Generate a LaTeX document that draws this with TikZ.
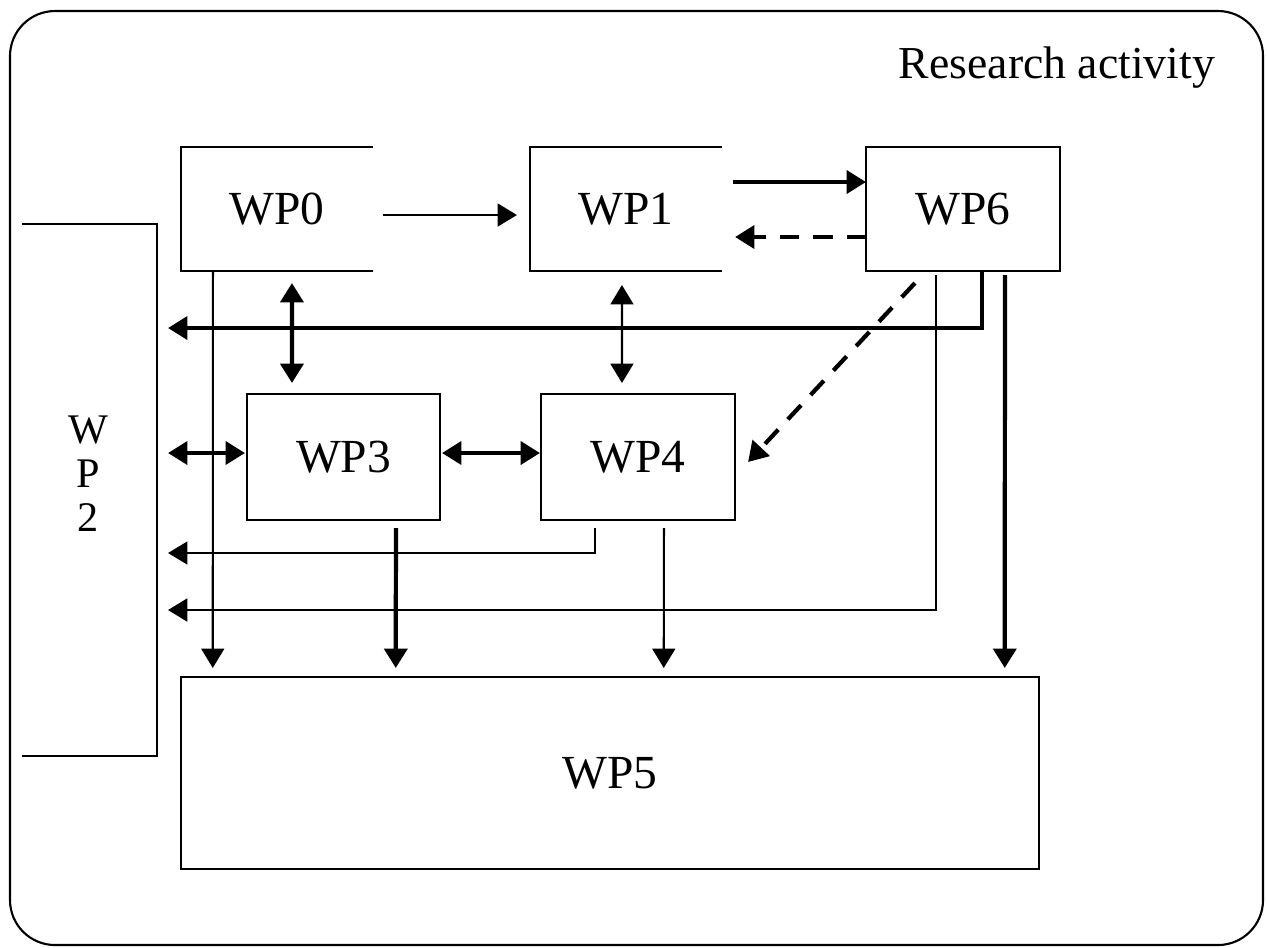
\documentclass[tikz,border=0pt]{standalone}
\usepackage{fontspec}
\setmainfont{Liberation Serif}
\usepackage{tikz}
\usetikzlibrary{arrows.meta,calc,positioning}

\begin{document}
\begin{tikzpicture}[x=0.01cm, y=-0.01cm,
    wp/.style={inner sep=0pt, outer sep=0pt, font=\fontsize{13.5}{16}\selectfont},
    box/.style={wp, draw, line width=0.6pt},
    thinarr/.style={line width=0.6pt, -{Triangle[length=5.5pt,width=6.5pt]}},
    midarr/.style={line width=0.8pt, -{Triangle[length=5.5pt,width=6.5pt]}},
    thickarr/.style={line width=1.2pt, -{Triangle[length=5.5pt,width=6.5pt]}},
    both/.style={{Triangle[length=5.5pt,width=6.5pt]}-{Triangle[length=5.5pt,width=6.5pt]}},
    longdash/.style={dash pattern=on 5.5pt off 4pt}]
  \useasboundingbox (0,0) rectangle (1267,947);
  \draw[line width=0.6pt, rounded corners=0.45cm] (10,11) rectangle (1263,945);
  \node[wp, anchor=east, font=\fontsize{13}{16}\selectfont] (title) at (1215,68) {Research activity};

  % work packages
  \node[wp, minimum width=1.92cm, minimum height=1.24cm] (wp0) at (277,209) {WP0};
  \node[wp, minimum width=1.92cm, minimum height=1.24cm] (wp1) at (626,209) {WP1};
  \node[box, minimum width=1.94cm, minimum height=1.24cm] (wp6) at (963,209) {WP6};
  \node[box, minimum width=1.93cm, minimum height=1.26cm] (wp3) at (343.5,457) {WP3};
  \node[box, minimum width=1.94cm, minimum height=1.26cm] (wp4) at (638,457) {WP4};
  \node[box, minimum width=8.58cm, minimum height=1.92cm] (wp5) at (610,773) {WP5};
  \node[wp, minimum width=1.35cm, minimum height=5.32cm] (wp2) at (89.5,490) {};
  \node[wp, align=center, font=\fontsize{12}{12.5}\selectfont] (wp2label) at (88,474) {W\\P\\2};

  % open sides
  \draw[line width=0.6pt] (wp0.north east) -- (wp0.north west) -- (wp0.south west) -- (wp0.south east);
  \draw[line width=0.6pt] (wp1.north east) -- (wp1.north west) -- (wp1.south west) -- (wp1.south east);
  \draw[line width=0.6pt] (wp2.north west) -- (wp2.north east) -- (wp2.south east) -- (wp2.south west);

  % top row
  \draw[thinarr] ($(wp0.east)+(10,6)$) -- ($(wp1.west)+(-13,6)$);
  \draw[thickarr] ($(wp1.east)+(11,-27)$) -- ($(wp6.west)+(0,-27)$);
  \draw[thickarr, longdash] ($(wp6.west)+(0,28)$) -- ($(wp1.east)+(13,28)$);

  % down to WP3 / WP4
  \draw[line width=1.2pt, both] ($(wp0.south west)+(111,12)$) -- ($(wp3.north west)+(45,-11)$);
  \draw[line width=0.6pt, both] ($(wp1.south west)+(92,14)$) -- ($(wp4.north west)+(81,-11)$);
  \draw[thickarr, longdash] ($(wp6.south west)+(49,12)$) -- ($(wp4.east)+(13,5)$);
  \draw[line width=1.2pt, both] ($(wp2.east)+(11,-37)$) -- ($(wp3.west)+(-2,-4)$);
  \draw[line width=1.2pt, both] ($(wp3.east)+(2,-4)$) -- ($(wp4.west)+(-1,-4)$);

  % back to WP2
  \draw[thickarr] ($(wp6.south west)+(116,0)$) |- ($(wp2.east)+(11,-162)$);
  \draw[midarr] ($(wp6.south west)+(70,4)$) |- ($(wp2.east)+(11,120)$);
  \draw[thinarr] ($(wp4.south west)+(54,8)$) |- ($(wp2.east)+(11,63)$);

  % into WP5
  \draw[thinarr] ($(wp0.south west)+(32,0)$) -- ($(wp5.north west)+(32,-9)$);
  \draw[thickarr] ($(wp3.south west)+(149,8)$) -- ($(wp5.north west)+(215,-9)$);
  \draw[thinarr] ($(wp4.south west)+(123,8)$) -- ($(wp5.north west)+(483,-9)$);
  \draw[thickarr] ($(wp6.south west)+(139,4)$) -- ($(wp5.north west)+(824,-9)$);
\end{tikzpicture}
\end{document}
